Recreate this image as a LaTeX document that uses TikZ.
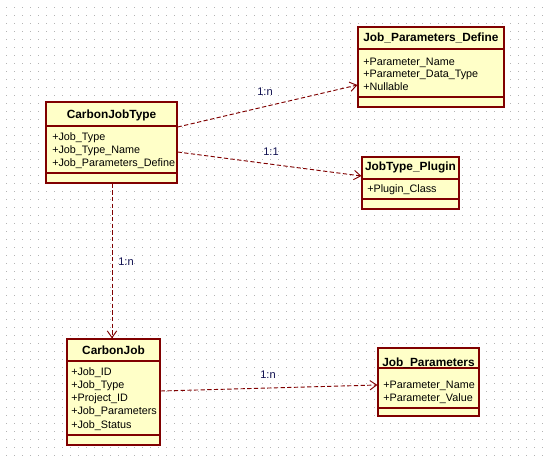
\documentclass[tikz,border=0pt]{standalone}
\usepackage{fontspec}
\setmainfont{Liberation Sans}
\usetikzlibrary{arrows.meta}
\definecolor{umlline}{RGB}{128,0,0}
\definecolor{umlfill}{RGB}{255,255,200}
\definecolor{umllabel}{RGB}{16,16,80}
\definecolor{griddot}{RGB}{180,180,180}
\tikzset{
  umlbox/.style={draw=umlline, fill=umlfill, line width=0.9pt, inner sep=0pt, rectangle},
  divider/.style={draw=umlline, line width=0.9pt},
  ctitle/.style={anchor=base, inner sep=0pt, font=\fontsize{8.9}{10}\selectfont\bfseries},
  cattr/.style={anchor=base west, inner sep=0pt, font=\fontsize{8.1}{10}\selectfont},
  assoc/.style={draw=umlline, line width=0.7pt, dash pattern=on 3.2pt off 1.8pt, -{Straight Barb[length=5pt,width=7pt,line width=0.7pt]}},
  mult/.style={inner sep=0pt, text=umllabel, font=\fontsize{8.3}{10}\selectfont}
}
\begin{document}
\begin{tikzpicture}[x=0.75pt,y=-0.75pt]
\useasboundingbox[fill=white] (0,0) rectangle (547,457);
% dotted grid
\foreach \gx in {6,14,...,546} {
  \foreach \gy in {7,15,...,456} {
    \fill[griddot] (\gx-0.5,\gy-0.5) rectangle (\gx+0.5,\gy+0.5);
  }
}
% CarbonJobType
\node[umlbox, minimum width=98.25pt, minimum height=60.75pt] (cjt) at (111.5,142.5) {};
\draw[divider] (46,126) -- (177,126);
\draw[divider] (46,173) -- (177,173);
\node[ctitle] (cjtT) at (111.5,118) {CarbonJobType};
\node[cattr] (cjtA1) at (52,140) {+Job\_Type};
\node[cattr] (cjtA2) at (52,153) {+Job\_Type\_Name};
\node[cattr] (cjtA3) at (52,166) {+Job\_Parameters\_Define};
% Job_Parameters_Define
\node[umlbox, minimum width=109.5pt, minimum height=60pt] (jpd) at (431,67) {};
\draw[divider] (358,49) -- (504,49);
\draw[divider] (358,97) -- (504,97);
\node[ctitle] (jpdT) at (431,41) {Job\_Parameters\_Define};
\node[cattr] (jpdA1) at (363,65) {+Parameter\_Name};
\node[cattr] (jpdA2) at (363,77.5) {+Parameter\_Data\_Type};
\node[cattr] (jpdA3) at (363,90) {+Nullable};
% JobType_Plugin
\node[umlbox, minimum width=72.75pt, minimum height=39pt] (jtp) at (410.5,183) {};
\draw[divider] (362,179) -- (459,179);
\draw[divider] (362,199) -- (459,199);
\node[ctitle] (jtpT) at (410.5,170) {JobType\_Plugin};
\node[cattr] (jtpA1) at (367,192) {+Plugin\_Class};
% CarbonJob
\node[umlbox, minimum width=69.75pt, minimum height=79.5pt] (cj) at (113.5,392) {};
\draw[divider] (67,361) -- (160,361);
\draw[divider] (67,435) -- (160,435);
\node[ctitle] (cjT) at (113.5,354) {CarbonJob};
\node[cattr] (cjA1) at (71,375) {+Job\_ID};
\node[cattr] (cjA2) at (71,388.3) {+Job\_Type};
\node[cattr] (cjA3) at (71,401.6) {+Project\_ID};
\node[cattr] (cjA4) at (71,414.9) {+Job\_Parameters};
\node[cattr] (cjA5) at (71,428.2) {+Job\_Status};
% Job_Parameters
\node[umlbox, minimum width=75.75pt, minimum height=51pt] (jp) at (428.5,382) {};
\draw[divider] (378,368) -- (479,368);
\draw[divider] (378,408) -- (479,408);
\node[ctitle] (jpT) at (428.5,366) {Job\_Parameters};
\node[cattr] (jpA1) at (383,388) {+Parameter\_Name};
\node[cattr] (jpA2) at (383,401) {+Parameter\_Value};
% connector end points
\coordinate (c1s) at (cjt.east |- 0,127);
\coordinate (c1e) at (jpd.west |- 0,85);
\coordinate (c2s) at (cjt.east |- 0,152);
\coordinate (c2e) at (jtp.west |- 0,176);
\coordinate (c3s) at (cjt.south -| 112,0);
\coordinate (c3e) at (cj.north -| 112,0);
\coordinate (c4s) at (cj.east |- 0,391);
\coordinate (c4e) at (jp.west |- 0,385);
% connectors
\draw[assoc] (c1s) -- (c1e);
\draw[assoc] (c2s) -- (c2e);
\draw[assoc] (c3s) -- (c3e);
\draw[assoc] (c4s) -- (c4e);
% multiplicities
\node[mult] (m1) at (265,92) {1:n};
\node[mult] (m2) at (271,152) {1:1};
\node[mult] (m3) at (126,262) {1:n};
\node[mult] (m4) at (268,375) {1:n};
\end{tikzpicture}
\end{document}
